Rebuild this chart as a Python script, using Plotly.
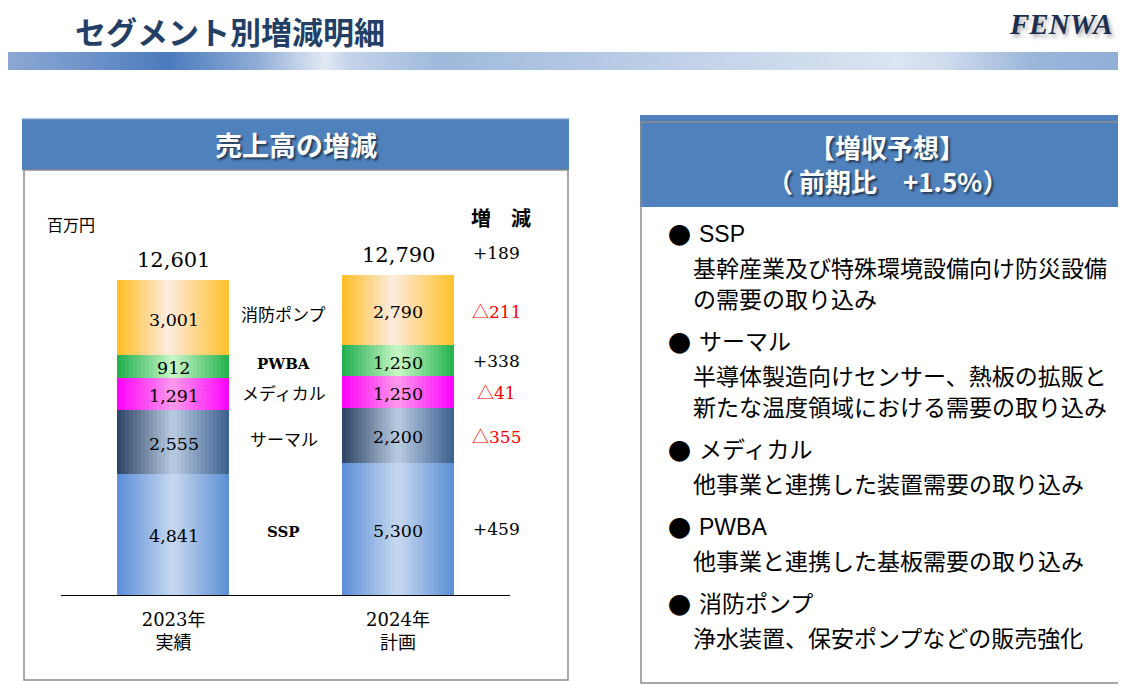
import plotly.graph_objects as go

# 売上高 (百万円)
segments = ["SSP", "サーマル", "メディカル", "PWBA", "消防ポンプ"]
sales_2023 = [4841, 2555, 1291, 912, 3001]
sales_2024 = [5300, 2200, 1250, 1250, 2790]
totals = [12601, 12790]
periods = ["2023年<br>実績", "2024年<br>計画"]

# 右パネル: 増収予想
outlook_title = "【増収予想】"
outlook_sub = "（ 前期比　+1.5%）"
outlook_heads = ["SSP", "サーマル", "メディカル", "PWBA", "消防ポンプ"]
outlook_notes = [
    ["基幹産業及び特殊環境設備向け防災設備", "の需要の取り込み"],
    ["半導体製造向けセンサー、熱板の拡販と", "新たな温度領域における需要の取り込み"],
    ["他事業と連携した装置需要の取り込み"],
    ["他事業と連携した基板需要の取り込み"],
    ["浄水装置、保安ポンプなどの販売強化"],
]

W, H = 1126, 685
OFF = 8  # ページ(body)の余白ぶんずらす
SERIF = "DejaVu Serif, Noto Sans CJK JP"
GOTHIC = "Noto Sans CJK JP"
NAVY = "#243f66"
BLUE = "#4f81bd"
TRI = '<span style="font-family:Noto Sans CJK JP">△</span>'


def px(x):
    return (x - OFF) / W


def py(y):
    return 1 - (y - OFF) / H


def rgb(h):
    h = h.lstrip("#")
    return [int(h[i:i + 2], 16) for i in (0, 2, 4)]


def mix(c1, c2, t):
    a, b = rgb(c1), rgb(c2)
    return "rgb(%d,%d,%d)" % tuple(round(a[i] + (b[i] - a[i]) * t) for i in range(3))


# 棒の横グラデーション: 左端, 中央, 右端, 中央の位置
grad = {
    "SSP": ("#5a8ed8", "#c8d9f0", "#5a8dd5", 0.5),
    "サーマル": ("#2c4262", "#b9cce3", "#3b5f8e", 0.5),
    "メディカル": ("#ff00f8", "#ff9aec", "#ff00ff", 0.5),
    "PWBA": ("#1eae4e", "#c9f8c6", "#22b14c", 0.5),
    "消防ポンプ": ("#ffbd22", "#fdebdf", "#ffc12b", 0.45),
}


def grad_color(name, t):
    left, mid, right, tc = grad[name]
    if t < tc:
        return mix(left, mid, t / tc)
    return mix(mid, right, (t - tc) / (1 - tc))


series = [sales_2023, sales_2024]
bases = [[sum(s[:i]) for i in range(len(s))] for s in series]
mids = [[b + v / 2 for b, v in zip(bs, s)] for bs, s in zip(bases, series)]

fig = go.Figure()

# 積み上げ棒 (細いスライスを並べてグラデーションを表現)
N = 28
BW = 0.5
dw = BW / N
for i, name in enumerate(segments):
    for k in range(N):
        fig.add_trace(go.Bar(
            x=[0, 1], y=[series[0][i], series[1][i]],
            base=[bases[0][i], bases[1][i]],
            offset=-BW / 2 + k * dw, width=dw * 1.6 if k < N - 1 else dw,
            marker=dict(color=grad_color(name, (k + 0.5) / N), line_width=0),
            hoverinfo="skip", showlegend=False))

ann = []
# 棒内の値と合計
for j in range(2):
    for i in range(len(segments)):
        ann.append(dict(x=j, y=mids[j][i], text=f"{series[j][i]:,}", yshift=-2,
                        font=dict(family=SERIF, size=17.5, color="black")))
    ann.append(dict(x=j, y=totals[j], text=f"{totals[j]:,}", yshift=20,
                    font=dict(family=SERIF, size=21, color="black")))

# セグメント名
for i, name in enumerate(segments):
    ascii_name = name.isascii()
    ann.append(dict(x=0.49, y=(mids[0][i] + mids[1][i]) / 2, text=name,
                    font=dict(family=SERIF if ascii_name else GOTHIC,
                              size=15 if ascii_name else 17, color="black",
                              weight="bold" if ascii_name else "normal")))


def diff_label(d):
    return (f"+{d:,}", "black") if d >= 0 else (f"{TRI}{-d:,}", "red")


# 増減
for i in range(len(segments)):
    t, c = diff_label(sales_2024[i] - sales_2023[i])
    ann.append(dict(x=1.441, y=mids[1][i], text=t, font=dict(family=SERIF, size=17, color=c)))
t, c = diff_label(totals[1] - totals[0])
ann.append(dict(x=1.441, y=totals[1], text=t, yshift=22, font=dict(family=SERIF, size=17, color=c)))

for a in ann:
    a.update(showarrow=False, xanchor="center", yanchor="middle")

# 見出しなど (paper座標)
paper = [
    dict(x=px(73), y=py(30), text="セグメント別増減明細", xanchor="left",
         font=dict(family=GOTHIC, size=31, color=NAVY, weight="bold")),
    dict(x=px(1007), y=py(24), text="FENWA", xanchor="left",
         font=dict(family="Liberation Serif", size=29, color="#1c2f4f", weight="bold",
                   style="italic", shadow="2px 3px 4px rgba(0,0,0,0.35)")),
    dict(x=px(295.5), y=py(145), text="売上高の増減",
         font=dict(family=GOTHIC, size=27, color="white", weight="bold",
                   shadow="2px 2px 2px rgba(0,0,0,0.55)")),
    dict(x=px(71), y=py(224), text="百万円", font=dict(family=GOTHIC, size=16, color="black")),
    dict(x=px(501), y=py(217), text="増　減",
         font=dict(family=GOTHIC, size=20, color="black", weight="bold")),
    dict(x=px(887), y=py(146), text=outlook_title,
         font=dict(family=GOTHIC, size=26, color="white", weight="bold",
                   shadow="2px 2px 2px rgba(0,0,0,0.55)")),
    dict(x=px(887), y=py(181), text=outlook_sub,
         font=dict(family=GOTHIC, size=26, color="white", weight="bold",
                   shadow="2px 2px 2px rgba(0,0,0,0.55)")),
]

y = 234
for head, notes in zip(outlook_heads, outlook_notes):
    paper.append(dict(x=px(679), y=py(y), text="●",
                      font=dict(family=GOTHIC, size=23, color="black")))
    paper.append(dict(x=px(697), y=py(y), text=head, xanchor="left",
                      font=dict(family="Liberation Sans, Noto Sans CJK JP", size=23, color="black")))
    y += 33
    for n in notes:
        paper.append(dict(x=px(691), y=py(y), text=n, xanchor="left",
                          font=dict(family=GOTHIC, size=23, color="black")))
        y += 31
    y += 13

for a in paper:
    a.setdefault("xanchor", "center")
    a.update(xref="paper", yref="paper", showarrow=False, yanchor="middle")

# 上部の帯 (横グラデーション)
band_stops = [(0, "#8eaad4"), (90, "#6e93c9"), (168, "#4b7bbd"), (255, "#8eabd5"),
              (325, "#e2e9f4"), (350, "#c3d3ea"), (440, "#9fb9dc"), (650, "#bccee7"),
              (900, "#dbe5f2"), (945, "#cfdcee"), (1030, "#9cb6da"), (1126, "#90aed7")]


def band_color(x):
    for (x0, c0), (x1, c1) in zip(band_stops, band_stops[1:]):
        if x <= x1:
            return mix(c0, c1, (x - x0) / (x1 - x0))
    return band_stops[-1][1]


shapes = []
step = 3
for x in range(OFF, W, step):
    shapes.append(dict(type="rect", xref="paper", yref="paper",
                       x0=px(x), x1=px(x + step + 1), y0=py(70), y1=py(52),
                       fillcolor=band_color(x + step / 2), line_width=0, layer="below"))

# 左パネル
shapes += [
    dict(type="rect", xref="paper", yref="paper", x0=px(22), x1=px(569), y0=py(170), y1=py(118),
         fillcolor=BLUE, line_width=0, layer="below"),
    dict(type="line", xref="paper", yref="paper", x0=px(22), x1=px(569), y0=py(118.5), y1=py(118.5),
         line=dict(color="#b8cce4", width=1.5)),
    dict(type="rect", xref="paper", yref="paper", x0=px(24), x1=px(568), y0=py(680), y1=py(170),
         fillcolor="rgba(0,0,0,0)", line=dict(color="#8c8c8c", width=1.5), layer="below"),
    # 右パネル
    dict(type="rect", xref="paper", yref="paper", x0=px(640), x1=px(1140), y0=py(207), y1=py(115),
         fillcolor=BLUE, line_width=0, layer="below"),
    dict(type="rect", xref="paper", yref="paper", x0=px(641), x1=px(1150), y0=py(683), y1=py(122),
         fillcolor="rgba(0,0,0,0)", line=dict(color="#8c8c8c", width=1.5), layer="below"),
]

fig.update_layout(
    width=W, height=H, margin=dict(l=0, r=0, t=0, b=0),
    paper_bgcolor="white", plot_bgcolor="rgba(0,0,0,0)",
    barmode="overlay", bargap=0,
    annotations=ann + paper, shapes=shapes,
    xaxis=dict(domain=[px(61.4), px(510.2)], range=[-0.5, 1.5],
               tickvals=[0, 1], ticktext=periods, ticks="", ticklabelstandoff=8,
               tickfont=dict(family=SERIF, size=18, color="black"),
               showline=True, linecolor="black", linewidth=1.3,
               showgrid=False, zeroline=False, fixedrange=True),
    yaxis=dict(domain=[py(595), py(195)], range=[0, 16000],
               visible=False, fixedrange=True),
)

fig.write_html("out.html")
